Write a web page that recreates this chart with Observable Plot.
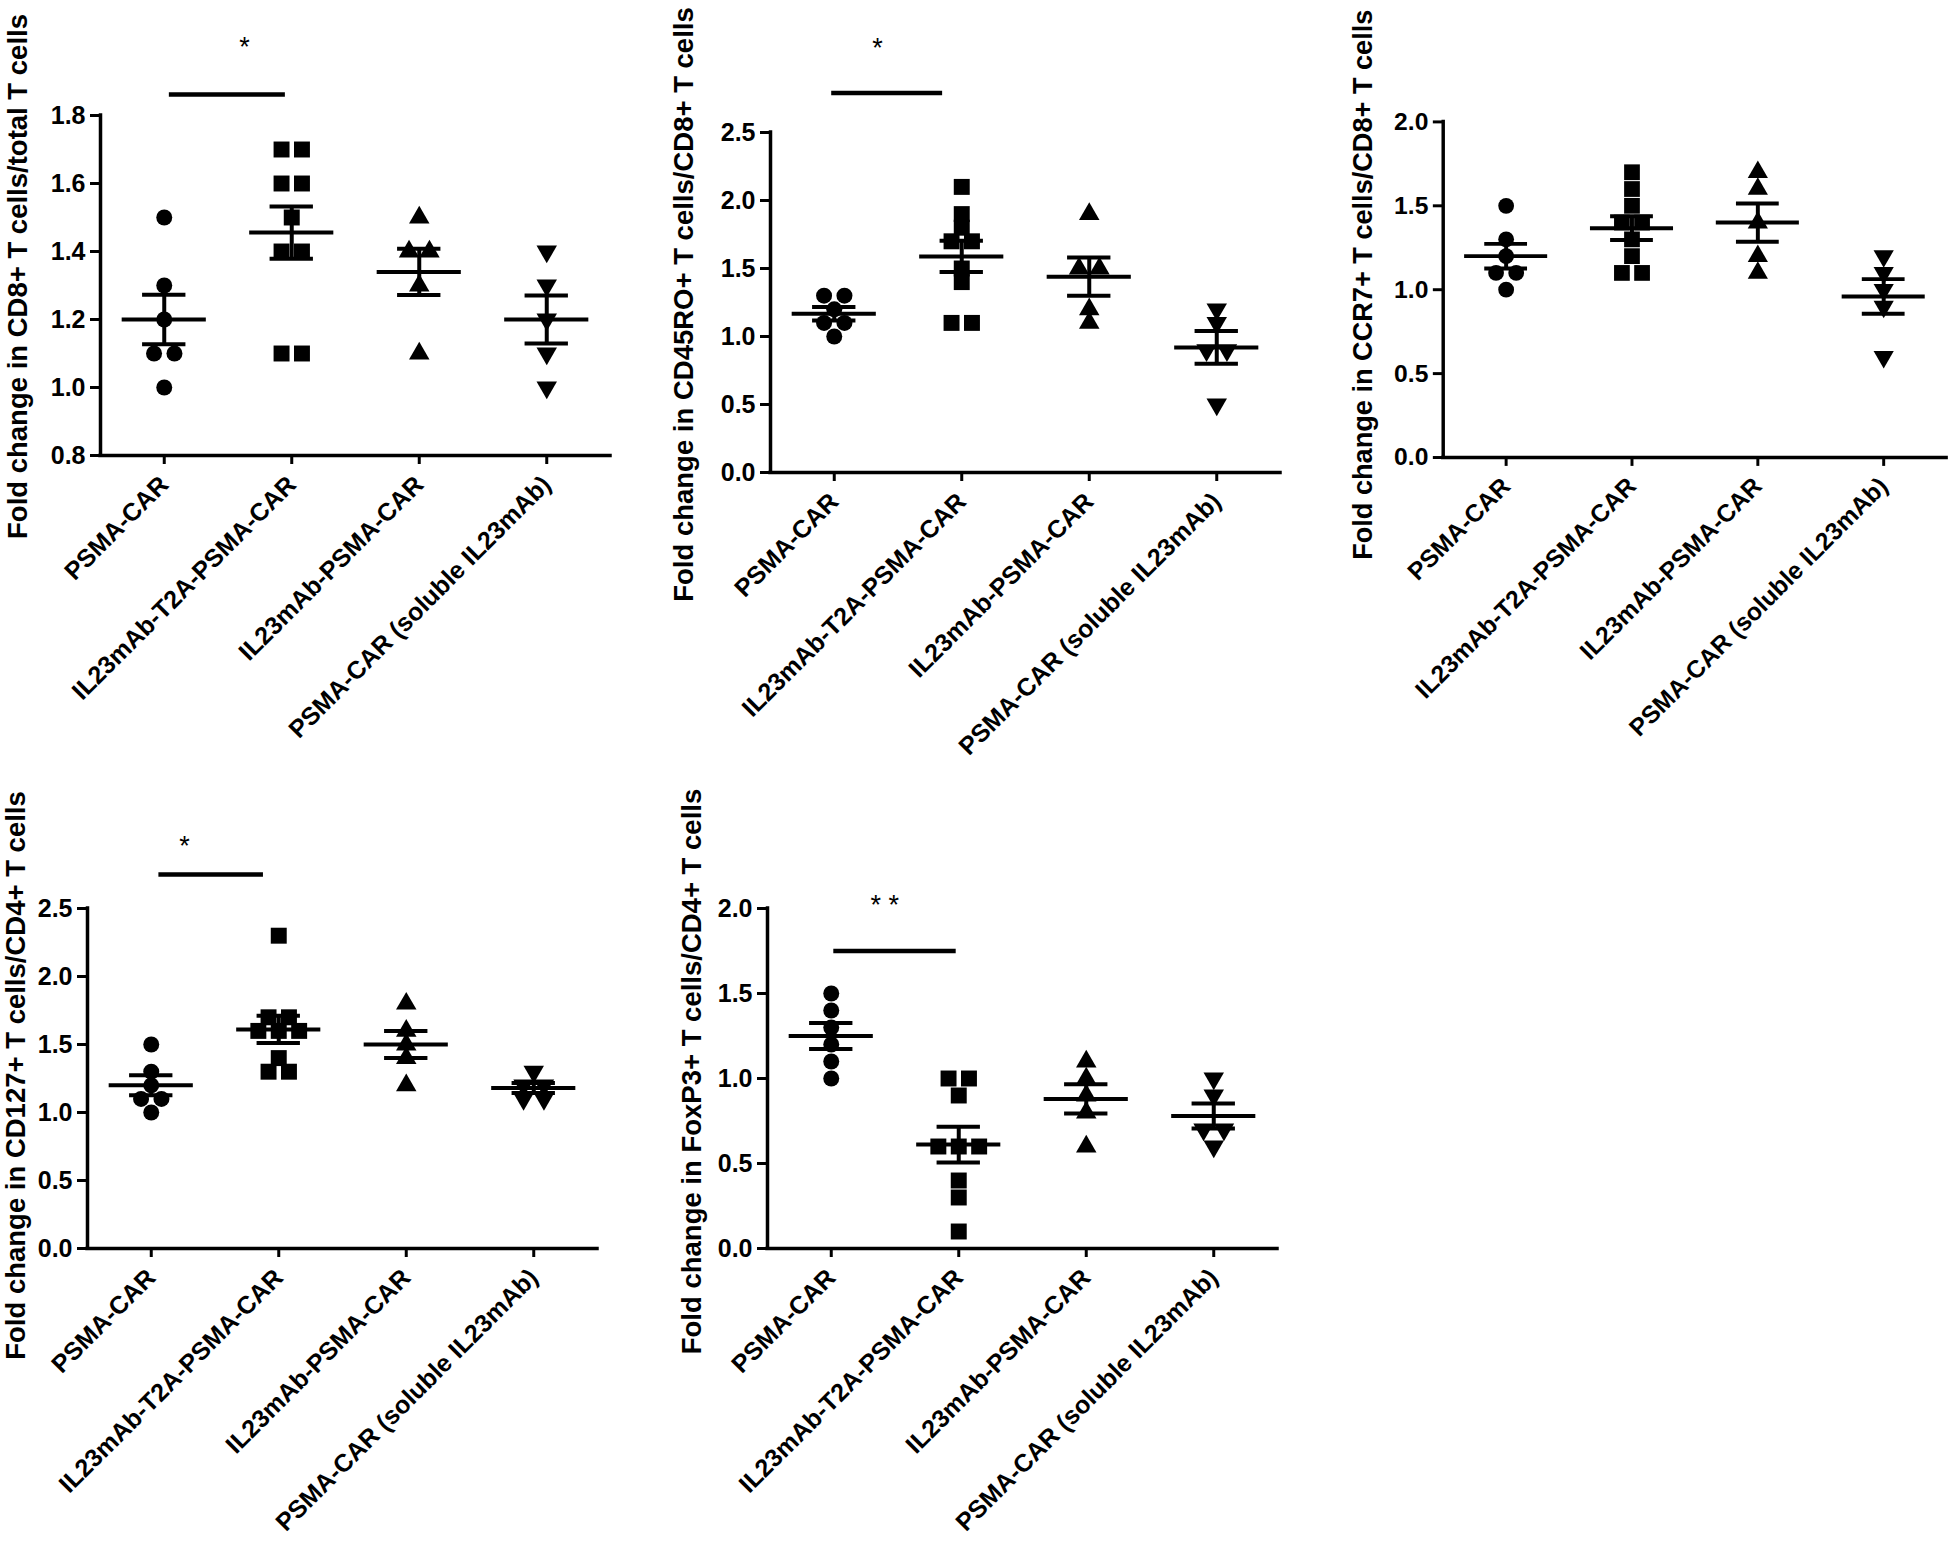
<!DOCTYPE html>
<html>
<head>
<meta charset="utf-8">
<script src="https://cdn.jsdelivr.net/npm/d3@7"></script>
<script src="https://cdn.jsdelivr.net/npm/@observablehq/plot@0.6"></script>
<style>
  html, body { margin: 0; padding: 0; background: #fff; }
  #fig { position: relative; width: 1956px; height: 1557px; overflow: hidden; background: #fff; }
  .panel { position: absolute; }
  .panel svg { overflow: visible; }
</style>
</head>
<body>
<div id="fig"></div>
<script>
// ---------------- data ----------------
const categories = ["PSMA-CAR", "IL23mAb-T2A-PSMA-CAR", "IL23mAb-PSMA-CAR", "PSMA-CAR (soluble IL23mAb)"];

// Panel A: CD8+ T cells / total T cells
const titleA = "Fold change in CD8+ T cells/total T cells";
const a_psma = [1.5, 1.3, 1.2, 1.1, 1.1, 1.0];
const a_t2a  = [1.7, 1.7, 1.6, 1.6, 1.5, 1.4, 1.4, 1.1, 1.1];
const a_il23 = [1.5, 1.4, 1.4, 1.3, 1.1];
const a_sol  = [1.4, 1.3, 1.2, 1.1, 1.0];
const ticksA = [0.8, 1.0, 1.2, 1.4, 1.6, 1.8];
const sigA = [{from: 0.04, to: 0.95, y: 1.862, label: "*", at: 0.63, labelY: 2.0}];

// Panel B: CD45RO+ T cells / CD8+ T cells
const titleB = "Fold change in CD45RO+ T cells/CD8+ T cells";
const b_psma = [1.3, 1.3, 1.2, 1.1, 1.1, 1.0];
const b_t2a  = [2.1, 1.9, 1.8, 1.7, 1.7, 1.5, 1.4, 1.1, 1.1];
const b_il23 = [1.9, 1.5, 1.5, 1.2, 1.1];
const b_sol  = [1.2, 1.1, 0.9, 0.9, 0.5];
const ticksB = [0.0, 0.5, 1.0, 1.5, 2.0, 2.5];
const sigB = [{from: -0.02, to: 0.85, y: 2.79, label: "*", at: 0.34, labelY: 3.12}];

// Panel C: CCR7+ T cells / CD8+ T cells
const titleC = "Fold change in CCR7+ T cells/CD8+ T cells";
const c_psma = [1.5, 1.3, 1.2, 1.1, 1.1, 1.0];
const c_t2a  = [1.7, 1.6, 1.5, 1.4, 1.4, 1.3, 1.2, 1.1, 1.1];
const c_il23 = [1.7, 1.6, 1.4, 1.2, 1.1];
const c_sol  = [1.2, 1.1, 1.0, 0.9, 0.6];
const ticksC = [0.0, 0.5, 1.0, 1.5, 2.0];
const sigC = [];

// Panel D: CD127+ T cells / CD4+ T cells
const titleD = "Fold change in CD127+ T cells/CD4+ T cells";
const d_psma = [1.5, 1.3, 1.2, 1.1, 1.1, 1.0];
const d_t2a  = [2.3, 1.7, 1.7, 1.6, 1.6, 1.6, 1.4, 1.3, 1.3];
const d_il23 = [1.8, 1.6, 1.5, 1.4, 1.2];
const d_sol  = [1.3, 1.2, 1.2, 1.1, 1.1];
const ticksD = [0.0, 0.5, 1.0, 1.5, 2.0, 2.5];
const sigD = [{from: 0.06, to: 0.88, y: 2.75, label: "*", at: 0.26, labelY: 2.96}];

// Panel E: FoxP3+ T cells / CD4+ T cells
const titleE = "Fold change in FoxP3+ T cells/CD4+ T cells";
const e_psma = [1.5, 1.4, 1.3, 1.2, 1.1, 1.0];
const e_t2a  = [1.0, 1.0, 0.9, 0.6, 0.6, 0.6, 0.4, 0.3, 0.1];
const e_il23 = [1.1, 1.0, 0.9, 0.8, 0.6];
const e_sol  = [1.0, 0.9, 0.7, 0.7, 0.6];
const ticksE = [0.0, 0.5, 1.0, 1.5, 2.0];
const sigE = [{from: 0.02, to: 0.98, y: 1.75, label: "* *", at: 0.42, labelY: 2.02}];

// ---------------- layout ----------------
const FONT = "'Liberation Sans', Arial, Helvetica, sans-serif";
const FRAME_W = 510, FRAME_H = 340, ML = 100, MR = 10;
const panels = [
  {title: titleA, groups: [a_psma, a_t2a, a_il23, a_sol], ticks: ticksA, sig: sigA, axisX: 100, svgTop: 0,   frameTop: 115, svgH: 780, labelX: 18,   labelY: 276},
  {title: titleB, groups: [b_psma, b_t2a, b_il23, b_sol], ticks: ticksB, sig: sigB, axisX: 770, svgTop: 0,   frameTop: 132, svgH: 780, labelX: 684,  labelY: 304},
  {title: titleC, groups: [c_psma, c_t2a, c_il23, c_sol], ticks: ticksC, sig: sigC, axisX: 1444, svgTop: 0,  frameTop: 123, svgH: 780, labelX: 1363, labelY: 288},
  {title: titleD, groups: [d_psma, d_t2a, d_il23, d_sol], ticks: ticksD, sig: sigD, axisX: 87, svgTop: 780,  frameTop: 908, svgH: 777, labelX: 16,   labelY: 1075},
  {title: titleE, groups: [e_psma, e_t2a, e_il23, e_sol], ticks: ticksE, sig: sigE, axisX: 767, svgTop: 780, frameTop: 908, svgH: 777, labelX: 692,  labelY: 1071}
];

const SPREAD = 0.16;       // horizontal spacing (category units) for tied values
const symbols = [
  {symbol: "circle", r: 8.0, rotate: 0},
  {symbol: "square", r: 9.0, rotate: 0},
  {symbol: "triangle", r: 7.6, rotate: 0},
  {symbol: "triangle", r: 7.6, rotate: 180}
];

function spread(values, gi) {
  const counts = d3.rollup(values, v => v.length, v => v);
  const seen = new Map();
  return values.map(v => {
    const k = counts.get(v), j = seen.get(v) || 0;
    seen.set(v, j + 1);
    return {group: gi, value: v, x: gi + (j - (k - 1) / 2) * SPREAD};
  });
}

const fig = document.getElementById("fig");

for (const p of panels) {
  const domain = [p.ticks[0], p.ticks[p.ticks.length - 1]];
  const stats = p.groups.map((vals, i) => {
    const mean = d3.mean(vals);
    const sem = d3.deviation(vals) / Math.sqrt(vals.length);
    return {i, mean, lo: mean - sem, hi: mean + sem};
  });
  const marginTop = p.frameTop - p.svgTop;
  const marginBottom = p.svgH - marginTop - FRAME_H;

  const dotMarks = p.groups.map((vals, gi) =>
    Plot.dot(spread(vals, gi), {
      x: "x", y: "value",
      symbol: symbols[gi].symbol, r: symbols[gi].r, rotate: symbols[gi].rotate,
      fill: "black", stroke: "none"
    })
  );

  const chart = Plot.plot({
    width: ML + FRAME_W + MR,
    height: p.svgH,
    marginLeft: ML, marginRight: MR, marginTop, marginBottom,
    x: {domain: [-0.5, 3.5]},
    y: {domain},
    style: {fontFamily: FONT, background: "white", color: "black", overflow: "visible"},
    marks: [
      Plot.axisY({
        ticks: p.ticks, tickFormat: d3.format(".1f"), tickSize: 10, tickPadding: 5,
        fontSize: 25, fontWeight: "bold", strokeWidth: 3, label: null
      }),
      Plot.axisX({
        ticks: [0, 1, 2, 3], tickFormat: i => categories[i], tickSize: 9, tickPadding: 16,
        tickRotate: -45, textAnchor: "end", fontSize: 25, fontWeight: "bold", strokeWidth: 3, label: null
      }),
      Plot.ruleX([-0.5], {stroke: "black", strokeWidth: 3.5, strokeLinecap: "square"}),
      Plot.ruleY([domain[0]], {stroke: "black", strokeWidth: 3.5, strokeLinecap: "square"}),
      ...dotMarks,
      Plot.ruleY(stats, {y: "mean", x1: d => d.i - 0.33, x2: d => d.i + 0.33, stroke: "black", strokeWidth: 4}),
      Plot.ruleY(stats, {y: "hi", x1: d => d.i - 0.17, x2: d => d.i + 0.17, stroke: "black", strokeWidth: 4}),
      Plot.ruleY(stats, {y: "lo", x1: d => d.i - 0.17, x2: d => d.i + 0.17, stroke: "black", strokeWidth: 4}),
      Plot.ruleX(stats, {x: "i", y1: "lo", y2: "hi", stroke: "black", strokeWidth: 4}),
      Plot.ruleY(p.sig, {y: "y", x1: "from", x2: "to", stroke: "black", strokeWidth: 4.5}),
      Plot.text(p.sig, {x: "at", y: "labelY", text: "label", fontSize: 27, fontWeight: "normal", fill: "black", lineAnchor: "middle", textAnchor: "middle"}),
      Plot.text([p.title], {
        text: d => d, frameAnchor: "left", dx: p.labelX - p.axisX,
        dy: p.labelY - (p.frameTop + FRAME_H / 2),
        rotate: -90, textAnchor: "middle", lineAnchor: "middle",
        fontSize: 27.5, fontWeight: "bold", fill: "black"
      })
    ]
  });

  const div = document.createElement("div");
  div.className = "panel";
  div.style.left = (p.axisX - ML) + "px";
  div.style.top = p.svgTop + "px";
  div.appendChild(chart);
  fig.appendChild(div);
}
</script>
</body>
</html>
